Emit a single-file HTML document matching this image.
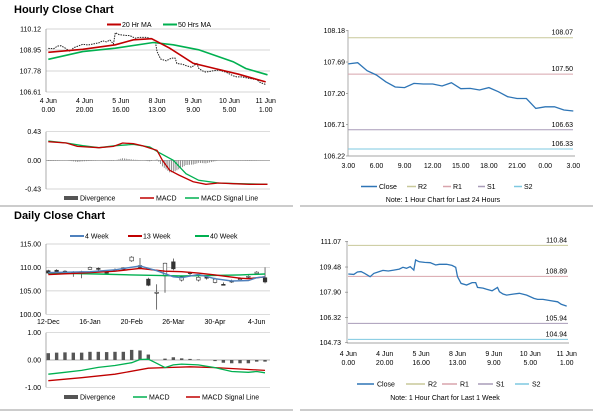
<!DOCTYPE html>
<html><head><meta charset="utf-8"><style>
html,body{margin:0;padding:0;background:#fff;}
svg{display:block;font-family:"Liberation Sans",sans-serif;}
text{font-size:7px;fill:#000;}
.t{font-size:11px;font-weight:bold;}
</style></head><body>
<svg id="s" width="600" height="413" viewBox="0 0 600 413" xmlns="http://www.w3.org/2000/svg">
<text class="t" x="14" y="13">Hourly Close Chart</text>
<text class="t" x="14" y="219">Daily Close Chart</text>
<line x1="0" y1="206" x2="293" y2="206" stroke="#999" stroke-width="1"/>
<line x1="300" y1="206" x2="593" y2="206" stroke="#999" stroke-width="1"/>
<line x1="0" y1="410" x2="293" y2="410" stroke="#999" stroke-width="1"/>
<line x1="300" y1="410" x2="593" y2="410" stroke="#999" stroke-width="1"/>
<g id="g"></g>
</svg>
<script>
// ---- data ----
const weekHours=[0,3,5,7,9,12,14,17,19,22,25,28,30,32,34,36,37,39,42,45,48,50,54,57,59,60,62,65,68,70,71,74,76,79,82,83,85,87,91,94,98,102,104,107,111,115,117,120];
const weekClose=[109.04,109.02,109.17,109.19,109.08,108.87,109.08,109.19,109.27,109.23,109.29,109.35,109.46,109.40,109.50,109.29,109.92,109.81,109.77,109.75,109.61,109.65,109.65,109.58,109.46,108.87,108.45,108.35,108.50,108.50,108.20,108.16,108.08,107.99,108.20,107.93,107.79,107.72,107.79,107.83,107.72,107.51,107.45,107.45,107.37,107.30,107.14,107.03];
const ma20Hours=[0,19,37,47,57,67,80,93,105,120];
const ma20=[108.82,108.99,109.24,109.52,109.58,109.05,108.21,107.89,107.60,107.17];
const ma50Hours=[0,19,37,58,69,83,102,109,121];
const ma50=[108.43,108.86,109.05,109.37,109.24,108.96,108.30,107.92,107.57];
const hMacdHours=[0,10,16,staticH(300),36,41,47,52,60,63,67,72,80,87,94,102,111,121];
function staticH(zx){return Math.round((zx-145)/5.46);}
const hMacd=[0.28,0.26,0.21,0.19,0.21,0.26,0.25,0.22,0.15,0,-0.15,-0.22,-0.32,-0.36,-0.34,-0.35,-0.36,-0.36];
const hSigHours=[0,10,19,28,37,47,56,61,69,76,83,94,105,121];
const hSig=[0.29,0.26,0.22,0.19,0.22,0.24,0.20,0.12,0,-0.20,-0.30,-0.34,-0.35,-0.36];
const dayClose=[107.66,107.68,107.555,107.487,107.38,107.30,107.29,107.356,107.346,107.346,107.315,107.367,107.273,107.278,107.252,107.29,107.226,107.148,107.12,107.12,106.965,106.99,106.99,106.94,106.924];
const hourTicks=["3.00","6.00","9.00","12.00","15.00","18.00","21.00","0.00","3.00"];
const weekTicks1=["4 Jun","4 Jun","5 Jun","8 Jun","9 Jun","10 Jun","11 Jun"];
const weekTicks2=["0.00","20.00","16.00","13.00","9.00","5.00","1.00"];
const levelsDay=[108.07,107.50,106.63,106.33];
const levelsWeek=[110.84,108.89,105.94,104.94];
const levelNames=["R2","R1","S1","S2"];
const candleOpen=[109.3,109.4,109.1,109.0,109.1,109.6,109.8,109.0,109.4,109.9,111.4,110.4,107.5,104.5,108.2,111.2,107.3,108.9,107.3,108.0,106.8,106.4,107.1,107.4,107.9,108.7,107.8];
const candleClose=[108.8,109.1,109.2,108.8,109.0,110.0,109.6,108.8,109.5,109.6,112.2,110.0,106.2,104.7,110.9,109.7,108.0,108.7,107.9,107.7,107.5,106.3,107.0,107.6,108.1,109.0,106.9];
const candleHigh=[109.5,109.6,109.4,109.2,109.3,110.2,110.0,109.2,109.8,110.0,112.4,112.0,107.8,106.4,111.0,111.9,108.3,109.1,108.2,108.2,107.8,106.8,107.4,107.9,108.3,109.2,110.0];
const candleLow=[108.6,108.9,108.9,108.0,107.7,109.5,109.3,108.5,109.1,109.4,111.2,109.6,106.0,101.0,104.6,109.4,107.0,108.3,107.0,107.4,106.6,106.2,106.7,107.2,107.6,108.4,106.6];
const w4Weeks=[0,5,8,11,13,15,16,18,20,22,24,25,26];
const w4=[108.9,109.1,109.5,110.3,109.3,108.0,107.8,108.5,107.6,107.1,107.2,107.8,108.0];
const w13Weeks=[0,4,8,11,14,16,18,20,23,24,26];
const w13=[108.5,108.8,109.2,109.8,109.2,109.1,108.8,108.4,107.7,107.6,108.0];
const w40Weeks=[0,6,10,13,16,20,23,26];
const w40=[108.8,108.6,108.4,108.3,108.2,108.3,108.4,108.6];
const dDiv=[0.25,0.27,0.28,0.27,0.27,0.3,0.3,0.29,0.3,0.3,0.37,0.35,0.2,0,0.05,0.1,0.06,0.04,0.02,0,-0.04,-0.1,-0.12,-0.12,-0.12,-0.06,-0.06];
const dMacdWeeks=[0,2,4,6,8,10,11,12,13,14,15,16,18,20,22,24,25,26];
const dMacd=[-0.52,-0.45,-0.38,-0.27,-0.2,-0.1,0.02,0.03,-0.12,-0.28,-0.18,-0.15,-0.18,-0.28,-0.42,-0.45,-0.42,-0.47];
const dSigWeeks=[0,4,8,12,14,17,20,23,26];
const dSig=[-0.76,-0.65,-0.52,-0.3,-0.28,-0.25,-0.28,-0.33,-0.38];
const dateTicks=["12-Dec","16-Jan","20-Feb","26-Mar","30-Apr","4-Jun"];

// ---- helpers ----
const NS="http://www.w3.org/2000/svg";const G=document.getElementById('g');
function sc(d0,d1,r0,r1){return v=>r0+(v-d0)/(d1-d0)*(r1-r0);}
function el(t,a){const e=document.createElementNS(NS,t);for(const k in a)e.setAttribute(k,a[k]);G.appendChild(e);return e;}
function txt(x,y,s,anchor){const e=el('text',{x:x,y:y,'text-anchor':anchor||'start'});e.textContent=s;return e;}
function pts(xs,ys,X,Y){return xs.map((v,i)=>X(v).toFixed(1)+','+Y(ys[i]).toFixed(1)).join(' ');}
function interp(xs,ys,x){for(let i=1;i<xs.length;i++){if(x<=xs[i]){const t=(x-xs[i-1])/(xs[i]-xs[i-1]);return ys[i-1]+t*(ys[i]-ys[i-1]);}}return ys[ys.length-1];}
let e;

// ===== Panel 1: hourly MA =====
const X1=sc(0,120,48.3,265.7),Y1=sc(110.12,106.61,29,92);
const p1t=["110.12","108.95","107.78","106.61"],p1v=[110.12,108.95,107.78,106.61];
p1v.forEach((v,i)=>{e=el('line',{x1:46,x2:270,y1:Y1(v),y2:Y1(v),stroke:'#c8c8c8','stroke-width':0.7});


e=txt(41,Y1(v)+2.5,p1t[i],'end');

});
e=el('line',{x1:46,x2:46,y1:29,y2:92,stroke:'#888','stroke-width':0.7});


weekTicks1.forEach((s,i)=>{const x=X1(i*20);
e=txt(x,103,s,'middle');


e=txt(x,112,weekTicks2[i],'middle');

});
e=el('polyline',{points:pts(weekHours,weekClose,X1,Y1),fill:'none',stroke:'#222','stroke-width':1,'stroke-dasharray':'1.5,1'});


e=el('polyline',{points:pts(ma50Hours,ma50,X1,Y1),fill:'none',stroke:'#00b050','stroke-width':1.6});


e=el('polyline',{points:pts(ma20Hours,ma20,X1,Y1),fill:'none',stroke:'#c00000','stroke-width':1.6});


e=el('line',{x1:107,x2:121,y1:24.5,y2:24.5,stroke:'#c00000','stroke-width':2});


e=txt(122,27,'20 Hr MA');


e=el('line',{x1:163,x2:177,y1:24.5,y2:24.5,stroke:'#00b050','stroke-width':2});


e=txt(178,27,'50 Hrs MA');



// ===== Panel 2: hourly MACD =====
const Y2=sc(0.43,-0.43,131.7,189);
[0.43,0,-0.43].forEach((v,i)=>{e=el('line',{x1:46,x2:270,y1:Y2(v),y2:Y2(v),stroke:i==1?'#999':'#c8c8c8','stroke-width':0.7});


e=txt(41,Y2(v)+2.5,["0.43","0.00","-0.43"][i],'end');

});
e=el('line',{x1:46,x2:46,y1:131.7,y2:189,stroke:'#888','stroke-width':0.7});


for(let h=0;h<=120;h++){const d=interp(hMacdHours,hMacd,h)-interp(hSigHours,hSig,h);
e=el('line',{x1:X1(h),x2:X1(h),y1:Y2(0),y2:Y2(d),stroke:'#777','stroke-width':0.8});

}
e=el('polyline',{points:pts(hSigHours,hSig,X1,Y2),fill:'none',stroke:'#00b050','stroke-width':1.3});


e=el('polyline',{points:pts(hMacdHours,hMacd,X1,Y2),fill:'none',stroke:'#c00000','stroke-width':1.3});


e=el('rect',{x:64,y:196,width:14,height:4,fill:'#555'});


e=txt(80,200.5,'Divergence');


e=el('line',{x1:140,x2:154,y1:198,y2:198,stroke:'#c00000','stroke-width':1.5});


e=txt(156,200.5,'MACD');


e=el('line',{x1:185,x2:199,y1:198,y2:198,stroke:'#00b050','stroke-width':1.5});


e=txt(201,200.5,'MACD Signal Line');



// ===== Panel 3: 24h close with pivots =====
const X3=sc(0,24,348.3,573.3),Y3=sc(108.18,106.22,30.7,156);
const levelColors=['#c8c89a','#d8a4ac','#a89cb8','#7ec8e0'];
[108.18,107.69,107.20,106.71,106.22].forEach((v,i)=>{e=txt(345,Y3(v)+2.5,v.toFixed(2),'end');


e=el('line',{x1:346,x2:348,y1:Y3(v),y2:Y3(v),stroke:'#888','stroke-width':0.7});

});
e=el('line',{x1:348,x2:348,y1:30,y2:156,stroke:'#888','stroke-width':0.7});


e=el('line',{x1:348,x2:575,y1:156,y2:156,stroke:'#888','stroke-width':0.7});


hourTicks.forEach((s,i)=>{e=txt(X3(i*3),168,s,'middle');

});
levelsDay.forEach((v,i)=>{e=el('line',{x1:348,x2:573,y1:Y3(v),y2:Y3(v),stroke:levelColors[i],'stroke-width':1});


e=txt(573,Y3(v)-3,v.toFixed(2),'end');

});
e=el('polyline',{points:pts(dayClose.map((v,i)=>i),dayClose,X3,Y3),fill:'none',stroke:'#2e75b6','stroke-width':1.3});


const lg3=[[361,379,'#2e75b6','Close'],[407,418,levelColors[0],'R2'],[443,453,levelColors[1],'R1'],[478,487,levelColors[2],'S1'],[514,524,levelColors[3],'S2']];
lg3.forEach(l=>{e=el('line',{x1:l[0],x2:l[1]-2,y1:186.5,y2:186.5,stroke:l[2],'stroke-width':1.5});


e=txt(l[1],189,l[3]);

});
e=txt(443,202,'Note: 1 Hour Chart for Last 24 Hours','middle');
e.setAttribute('font-size','5.5');



// ===== Panel 4: daily candles =====
const X4=sc(0,25,48.3,256.7),Y4=sc(115,100,244,314.3);
[115,110,105,100].forEach(v=>{e=el('line',{x1:46,x2:270,y1:Y4(v),y2:Y4(v),stroke:'#c8c8c8','stroke-width':0.7});


e=txt(41,Y4(v)+2.5,v.toFixed(2),'end');

});
e=el('line',{x1:46,x2:46,y1:244,y2:314.3,stroke:'#888','stroke-width':0.7});


dateTicks.forEach((s,i)=>{e=txt(X4(i*5),324,s,'middle');

});
candleOpen.forEach((o,i)=>{const c=candleClose[i],x=X4(i);
e=el('line',{x1:x,x2:x,y1:Y4(candleHigh[i]),y2:Y4(candleLow[i]),stroke:'#333','stroke-width':0.7});


const y=Math.min(Y4(o),Y4(c)),h=Math.max(1,Math.abs(Y4(o)-Y4(c)));
e=el('rect',{x:x-1.8,y:y,width:3.6,height:h,fill:c>=o?'#fff':'#333',stroke:'#333','stroke-width':0.6});

});
e=el('polyline',{points:pts(w40Weeks,w40,X4,Y4),fill:'none',stroke:'#00b050','stroke-width':1.4});


e=el('polyline',{points:pts(w13Weeks,w13,X4,Y4),fill:'none',stroke:'#c00000','stroke-width':1.4});


e=el('polyline',{points:pts(w4Weeks,w4,X4,Y4),fill:'none',stroke:'#4f81bd','stroke-width':1.4});


[[70,'#4f81bd','4 Week'],[128,'#c00000','13 Week'],[195,'#00b050','40 Week']].forEach(l=>{
e=el('line',{x1:l[0],x2:l[0]+14,y1:236,y2:236,stroke:l[1],'stroke-width':2});


e=txt(l[0]+15,238.5,l[2]);

});

// ===== Panel 5: daily MACD =====
const Y5=sc(1,-1,332.7,387.3);
[1,0,-1].forEach((v,i)=>{e=el('line',{x1:46,x2:270,y1:Y5(v),y2:Y5(v),stroke:i==1?'#999':'#c8c8c8','stroke-width':0.7});


e=txt(41,Y5(v)+2.5,v.toFixed(2),'end');

});
e=el('line',{x1:46,x2:46,y1:332.7,y2:387.3,stroke:'#888','stroke-width':0.7});


dDiv.forEach((d,i)=>{const y0=Y5(0),y1=Y5(d);
e=el('rect',{x:X4(i)-1.7,y:Math.min(y0,y1),width:3.4,height:Math.abs(y1-y0),fill:'#555'});

});
e=el('polyline',{points:pts(dSigWeeks,dSig,X4,Y5),fill:'none',stroke:'#c00000','stroke-width':1.3});


e=el('polyline',{points:pts(dMacdWeeks,dMacd,X4,Y5),fill:'none',stroke:'#00b050','stroke-width':1.3});


e=el('rect',{x:64,y:395,width:14,height:4,fill:'#555'});


e=txt(80,399.5,'Divergence');


e=el('line',{x1:133,x2:147,y1:397,y2:397,stroke:'#00b050','stroke-width':1.5});


e=txt(149,399.5,'MACD');


e=el('line',{x1:186,x2:200,y1:397,y2:397,stroke:'#c00000','stroke-width':1.5});


e=txt(202,399.5,'MACD Signal Line');



// ===== Panel 6: weekly close with pivots =====
const X6=sc(0,120,348.3,566.7),Y6=sc(111.07,104.73,241.7,342.7);
[111.07,109.48,107.90,106.32,104.73].forEach(v=>{e=txt(341,Y6(v)+2.5,v.toFixed(2),'end');


e=el('line',{x1:345,x2:348,y1:Y6(v),y2:Y6(v),stroke:'#888','stroke-width':0.7});

});
e=el('line',{x1:347,x2:347,y1:241,y2:343,stroke:'#888','stroke-width':0.7});


e=el('line',{x1:347,x2:569,y1:343,y2:343,stroke:'#888','stroke-width':0.7});


weekTicks1.forEach((s,i)=>{const x=X6(i*20);
e=txt(x,356,s,'middle');


e=txt(x,365,weekTicks2[i],'middle');

});
levelsWeek.forEach((v,i)=>{e=el('line',{x1:348,x2:568,y1:Y6(v),y2:Y6(v),stroke:levelColors[i],'stroke-width':1});


e=txt(567,Y6(v)-3,v.toFixed(2),'end');

});
e=el('polyline',{points:pts(weekHours,weekClose,X6,Y6),fill:'none',stroke:'#2e75b6','stroke-width':1.3});


const lg6=[[357,377,'#2e75b6','Close'],[406,428,levelColors[0],'R2'],[442,460,levelColors[1],'R1'],[478,496,levelColors[2],'S1'],[515,532,levelColors[3],'S2']];
lg6.forEach(l=>{e=el('line',{x1:l[0],x2:l[1]-3,y1:384,y2:384,stroke:l[2],'stroke-width':1.5});


e=txt(l[1],386.5,l[3]);

});
e=txt(445,400,'Note: 1 Hour Chart for Last 1 Week','middle');
e.setAttribute('font-size','5.5');


</script>
</body></html>
